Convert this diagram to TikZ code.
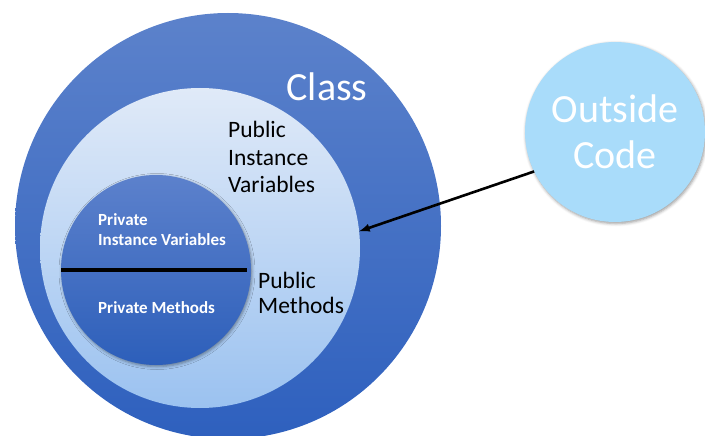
\documentclass[tikz,border=0pt]{standalone}
\usepackage{fontspec}
\setmainfont{Carlito}
\usetikzlibrary{arrows,positioning,shadows.blur}

\definecolor{ClassTop}{RGB}{92,130,203}
\definecolor{ClassBot}{RGB}{46,96,190}
\definecolor{PubTop}{RGB}{224,234,248}
\definecolor{PubBot}{RGB}{155,194,240}
\definecolor{PrivTop}{RGB}{92,129,204}
\definecolor{PrivBot}{RGB}{45,95,186}
\definecolor{OutBlue}{RGB}{169,220,250}

\tikzset{
  ring/.style={circle, inner sep=0pt, outer sep=0pt},
  softshadow/.style={blur shadow={shadow xshift=1pt, shadow yshift=-1.5pt,
      shadow blur radius=3pt, shadow opacity=40}},
}

\begin{document}
\begin{tikzpicture}[>=latex, x=1pt, y=-1pt]
\useasboundingbox (0,0) rectangle (705,436);
% circles
\node (class) [ring, minimum size=426pt, top color=ClassTop, bottom color=ClassBot] at (228,226) {};
\node (public) [ring, minimum size=320pt, top color=PubTop, bottom color=PubBot] at (200,248) {};
\node (private) [ring, minimum size=190pt, top color=PrivTop, bottom color=PrivBot, softshadow] at (156,270) {};
\node (outside) [ring, minimum size=180pt, fill=OutBlue, softshadow, text=white, align=center,
  font=\fontsize{40}{46}\selectfont] at (615,132) {Outside\\Code};
% labels
\node (classlbl) [anchor=base, text=white, font=\fontsize{40}{46}\selectfont] at (327,101) {Class};
\node (pubvars) [anchor=base west, align=left, inner sep=0pt, font=\fontsize{23.5}{27.5}\selectfont] at (228,193) {Public\\Instance\\Variables};
\node (pubmeth) [anchor=base west, align=left, inner sep=0pt, font=\fontsize{23.5}{25}\selectfont] at (258,313) {Public\\Methods};
\node (privvars) [anchor=base west, align=left, inner sep=0pt, text=white, font=\fontsize{17}{20}\selectfont\bfseries] at (98,245) {Private\\Instance Variables};
\node (privmeth) [anchor=base west, inner sep=0pt, text=white, font=\fontsize{17}{20}\selectfont\bfseries] at (98,313) {Private Methods};
% divider and access arrow
\draw[line width=3.5pt, shorten >=4pt] (private.west) -- (private.east);
\draw[->, line width=2.6pt] (outside.206) -- (public.6);
\end{tikzpicture}
\end{document}
